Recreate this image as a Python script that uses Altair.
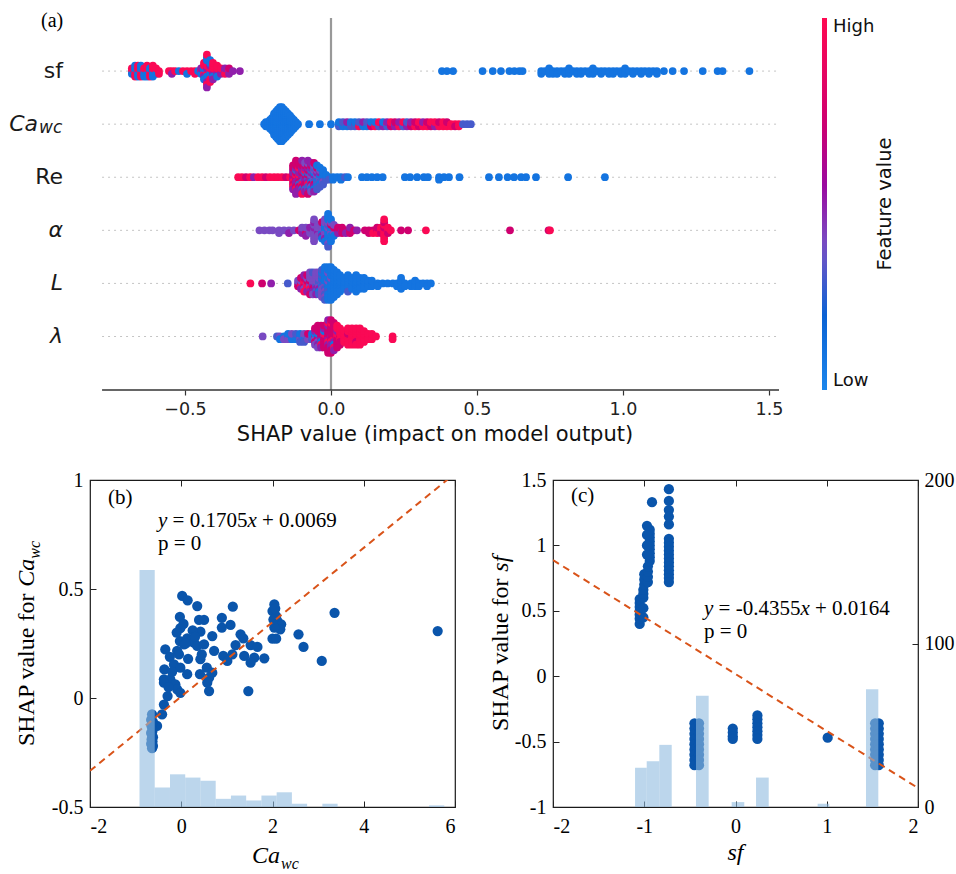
import math
import altair as alt
import pandas as pd

SANS = "DejaVu Sans"
SERIF = "Liberation Serif"

# ======================= panel (a): SHAP beeswarm =======================
ROW_TEXT = ["sf", "Ca", "Re", "α", "L", "λ"]
ROW_ITALIC = [False, True, False, True, True, True]
ROW_SUB = ["", "wc", "", "", "", ""]

# feature-value level of each dot code (low -> high)
LEVEL = {"B": 0.10, "b": 0.30, "v": 0.40, "P": 0.50, "m": 0.72, "R": 0.97}

# SHAP value of each stack of dots and the colour codes of the dots in it
SF_X = [-0.682, -0.671, -0.661, -0.651, -0.640, -0.630, -0.620, -0.610, -0.599, -0.589,
        -0.555, -0.545, -0.534, -0.521, -0.507, -0.493, -0.479, -0.466, -0.455, -0.445,
        -0.435, -0.425, -0.414, -0.404,
        -0.390, -0.377, -0.363, -0.349, -0.336, -0.312,
        0.380, 0.397, 0.418,
        0.519, 0.554, 0.582, 0.611, 0.628, 0.645, 0.656,
        0.720, 0.733, 0.747, 0.760, 0.774, 0.788, 0.801, 0.815, 0.829, 0.842,
        0.856, 0.870, 0.884, 0.897, 0.911, 0.925, 0.938, 0.952, 0.966, 0.979,
        0.993, 1.007, 1.021, 1.034, 1.048, 1.062, 1.075, 1.089, 1.103, 1.116,
        1.140, 1.170, 1.209, 1.273, 1.324, 1.341, 1.433]
SF_C = ["RBR", "BRBRB", "RBRBR", "BRBRB", "RBRB", "RBRBR", "BRBR", "RBRBR", "RBR", "RR",
        "R", "RP", "R", "B", "R", "RB", "R", "RR", "B", "RBP",
        "BRBPRBR", "BRPBRBRPBRBPR", "RBRBPRBRB", "RPRBRPR",
        "RPRBR", "RPR", "PRP", "RPm", "P", "P",
        "B", "B", "B",
        "B", "B", "B", "B", "B", "B", "B",
        "BB", "B", "BBB", "BB", "BB", "B", "BB", "BBB", "B", "BB",
        "BB", "B", "BB", "BBB", "B", "BB", "B", "BB", "BB", "B",
        "BB", "BBB", "B", "BB", "B", "BB", "B", "BB", "B", "BB",
        "B", "B", "B", "B", "B", "B", "B"]

CA_X = [-0.229, -0.223, -0.216, -0.209, -0.202, -0.195, -0.188, -0.182, -0.175, -0.168,
        -0.161, -0.154, -0.147, -0.140, -0.134, -0.127, -0.120, -0.113,
        -0.075, -0.038, 0.000,
        0.027, 0.041, 0.055, 0.068, 0.082, 0.096, 0.110, 0.123, 0.137, 0.151,
        0.164, 0.178, 0.192, 0.205, 0.219, 0.233, 0.247, 0.260, 0.274, 0.288,
        0.301, 0.315, 0.329, 0.342, 0.356, 0.370, 0.384, 0.397, 0.411, 0.425,
        0.438, 0.452, 0.466, 0.479]
CA_BLOB = [1, 3, 3, 5, 7, 11, 13, 15, 17, 17, 15, 13, 11, 9, 7, 5, 3, 1]
CA_C = ["B" * n for n in CA_BLOB] + [
        "B", "B", "B",
        "BbB", "BBb", "bBP", "BbB", "PbB", "BRb", "bBP", "RBb", "PmB", "bRB",
        "PbR", "mPB", "RbP", "PmR", "bPm", "mRP", "PbR", "mPb", "RmP", "PRm",
        "RmR", "mRP", "RRm", "RmR", "RPR", "RRm", "mRR", "RRm", "RR", "Rm",
        "RR", "b", "b", "b"]

RE_X = [-0.318, -0.305, -0.291, -0.277, -0.264, -0.250, -0.236, -0.223, -0.209, -0.195,
        -0.182, -0.168, -0.154, -0.140,
        -0.130, -0.120, -0.110, -0.099, -0.089, -0.079, -0.068, -0.058, -0.048, -0.038,
        -0.027, -0.017,
        -0.007, 0.007, 0.021, 0.034, 0.048, 0.058,
        0.106, 0.123, 0.140, 0.158, 0.177,
        0.253, 0.271, 0.295, 0.318, 0.332,
        0.370, 0.387, 0.404, 0.440,
        0.541, 0.575, 0.605, 0.627, 0.651, 0.668, 0.702, 0.812, 0.938]
RE_C = ["R", "R", "m", "R", "P", "R", "R", "m", "R", "R",
        "R", "R", "m", "R",
        "mPmRPmPRmPm", "PmRPmPbmPRmPmPm", "mPRmPbPmRPmPm", "PmPbmRPmPbmPmRP",
        "bPmPbmRmPbmPv", "PbmPbRmbPbmPvmP", "bPvBPmbvPBmvP", "BvPbBmvPbBvPm",
        "BbvBPbvBmbB", "BvBbPBvbB", "BbBvBbB", "BbB",
        "Bb", "BB", "B", "BB", "b", "B",
        "B", "B", "B", "B", "B",
        "B", "B", "B", "B", "B",
        "BB", "B", "B", "B",
        "B", "B", "B", "B", "B", "B", "B", "B", "B"]

AL_X = [-0.245, -0.228, -0.211, -0.200,
        -0.178, -0.161, -0.144, -0.127, -0.110,
        -0.099, -0.086, -0.072,
        -0.058, -0.045,
        -0.031, -0.021, -0.010, 0.000, 0.010,
        0.024, 0.038, 0.051, 0.065, 0.079, 0.089,
        0.116, 0.130, 0.144, 0.158, 0.171, 0.182, 0.195, 0.205,
        0.240, 0.264, 0.325,
        0.613, 0.745, 0.750]
AL_C = ["v", "v", "v", "v",
        "vv", "v", "vP", "v", "m",
        "vPv", "vmvP", "vvP",
        "vvPvvvPvv", "vPvvv",
        "vBvPvBm", "BvBvBPvBv", "BBvBbBvBBvBbB", "BvBBmBvBB", "BvmBv",
        "mPm", "Pmm", "mP", "mmP", "m", "P",
        "m", "mm", "mR", "mRm", "RmR", "RRmRRRmRR", "RmR", "R",
        "m", "m", "R",
        "m", "m", "R"]

L_X = [-0.276, -0.236, -0.205, -0.148,
       -0.113, -0.103, -0.092, -0.082, -0.072, -0.062, -0.051, -0.041, -0.031, -0.021, -0.010,
       0.000, 0.010, 0.021, 0.031,
       0.045, 0.058, 0.072, 0.086, 0.099, 0.113, 0.127, 0.140,
       0.160, 0.177, 0.194,
       0.212, 0.226, 0.240, 0.253,
       0.274, 0.288, 0.301, 0.315, 0.329, 0.342]
L_C = ["R", "m", "P", "b",
       "vmv", "mRvPm", "RmRvmRP", "vRmRvPm", "PvmRvPvmv", "vPvmvPvvb", "vbvPvbvPv",
       "bvbPvBvbv", "vBbvBvbvBvb", "BvBbBvBbBvBbB", "BBvBBbBBvBBBB",
       "BBBBvBBBBBBBB", "BBBBBBBBBBB", "BBBBBBBBB", "BBBBBBB",
       "BBBBB", "BBBBBbB", "BBBBB", "BBBBBBB", "BBBBB", "BBBBB", "BBB", "BBB",
       "BB", "B", "B",
       "B", "BB", "BBBBB", "BB",
       "BB", "BBB", "BB", "B", "BB", "B"]

LA_X = [-0.234,
        -0.185, -0.175, -0.161,
        -0.147, -0.134, -0.120, -0.106, -0.092, -0.079, -0.065,
        -0.055, -0.045, -0.034, -0.024,
        -0.010, 0.000, 0.010, 0.021, 0.031,
        0.045, 0.058, 0.072, 0.086, 0.099, 0.113, 0.127, 0.140, 0.154,
        0.211]
LA_C = ["v",
        "b", "vB", "Bv",
        "BvB", "BBv", "vBb", "BvBb", "vBvb", "Bvm", "vbB",
        "mvBmPvm", "PmBvmPmvm", "mPmBmRmPm", "PmRmBmPmm",
        "mPmRmPmmPmRmP", "PmmRmPmPmmRmm", "mRmPmBmRmPm", "RmRmPmRmR", "mRRmRmR",
        "RRRRR", "RRmRRRR", "RRRRRRR", "RRRmRRR", "RRRRRRR", "RRRRR", "RRR", "RRR", "R",
        "RR"]

ROWS = [(SF_X, SF_C), (CA_X, CA_C), (RE_X, RE_C), (AL_X, AL_C), (L_X, L_C), (LA_X, LA_C)]

# ======================= panel (b): SHAP vs Ca_wc =======================
B_POINTS = [(0.02, 0.468), (0.14, 0.448), (0.35, 0.422), (1.13, 0.419), (2.04, 0.429),
            (2.00, 0.399), (2.08, 0.376), (2.11, 0.353), (2.19, 0.338), (2.17, 0.315),
            (2.04, 0.323), (2.00, 0.272), (2.08, 0.272), (3.36, 0.391), (-0.03, 0.372),
            (0.39, 0.358), (0.50, 0.358), (0.89, 0.368), (1.08, 0.335), (0.89, 0.323),
            (-0.02, 0.320), (0.42, 0.304), (-0.03, 0.261), (0.13, 0.274), (0.20, 0.261),
            (0.28, 0.254), (0.06, 0.246), (0.35, 0.239), (0.50, 0.246), (0.68, 0.284),
            (1.30, 0.292), (1.36, 0.274), (1.52, 0.243), (1.67, 0.234), (1.19, 0.243),
            (-0.35, 0.223), (-0.25, 0.189), (0.72, 0.216), (0.92, 0.193), (1.12, 0.200),
            (1.01, 0.170), (1.38, 0.193), (1.60, 0.185), (1.82, 0.182), (1.52, 0.162),
            (2.57, 0.292), (2.68, 0.234), (3.08, 0.170), (-0.09, 0.216), (-0.16, 0.154),
            (-0.02, 0.139), (-0.37, 0.131), (0.13, 0.109), (0.42, 0.178), (0.56, 0.139),
            (0.41, 0.109), (0.61, 0.093), (0.68, 0.116), (-0.38, 0.086), (-0.24, 0.086),
            (-0.13, 0.063), (-0.38, 0.070), (-0.09, 0.040), (-0.30, 0.009), (0.61, 0.032),
            (0.57, 0.070), (1.47, 0.032), (-0.02, 0.024), (-0.38, -0.030), (-0.42, -0.075),
            (-0.53, -0.128), (5.62, 0.307), (-0.10, 0.300), (0.05, 0.340), (0.25, 0.310),
            (0.30, 0.280), (-0.20, 0.120), (-0.05, 0.200), (0.10, 0.250), (0.45, 0.200),
            (0.15, 0.180), (-0.28, 0.050), (2.02, 0.360), (2.06, 0.410),
            (-0.64, -0.075), (-0.66, -0.100), (-0.62, -0.110), (-0.64, -0.120),
            (-0.65, -0.130), (-0.63, -0.150), (-0.66, -0.160), (-0.64, -0.170),
            (-0.62, -0.180), (-0.65, -0.190), (-0.63, -0.200), (-0.66, -0.210),
            (-0.62, -0.220), (-0.64, -0.230)]
B_FIT = (0.1705, 0.0069)
B_HIST_LO = [-0.915, -0.581, -0.247, 0.087, 0.421, 0.755, 1.089, 1.423, 1.757, 2.091, 2.425, 3.093, 5.431]
B_HIST_HI = [-0.581, -0.247, 0.087, 0.421, 0.755, 1.089, 1.423, 1.757, 2.091, 2.425, 2.759, 3.427, 5.765]
B_HIST_N = [145, 12, 20, 18, 16, 5, 7, 4, 7, 9, 2, 2, 1]

# ======================= panel (c): SHAP vs sf =======================
C_COLUMNS = [
    (-1.05, [0.40, 0.44, 0.47, 0.50, 0.53, 0.56, 0.59]),
    (-1.01, [0.45, 0.52, 0.60, 0.63, 0.66]),
    (-1.00, [0.70, 0.74, 0.78]),
    (-0.96, [0.72, 0.76, 0.80, 0.84]),
    (-0.94, [0.88, 0.91, 0.94, 0.97, 1.00, 1.03, 1.06, 1.09, 1.12]),
    (-0.97, [0.93, 1.00, 1.08, 1.15]),
    (-0.915, [1.33]),
    (-0.73, [1.43, 1.34, 1.27, 1.22, 1.16, 1.05, 1.02, 0.99, 0.96, 0.93, 0.90, 0.87,
             0.84, 0.81, 0.78, 0.75, 0.72]),
    (-0.45, [-0.36, -0.40, -0.44, -0.48, -0.52, -0.56, -0.60, -0.64, -0.68]),
    (-0.40, [-0.36, -0.40, -0.44, -0.48, -0.52, -0.56, -0.60, -0.64, -0.68]),
    (-0.03, [-0.40, -0.43, -0.46, -0.48]),
    (0.24, [-0.30, -0.33, -0.36, -0.39, -0.42, -0.45, -0.48]),
    (1.01, [-0.47]),
    (1.53, [-0.36, -0.40, -0.44, -0.48, -0.52, -0.56, -0.60, -0.64, -0.68]),
    (1.57, [-0.36, -0.40, -0.44, -0.48, -0.52, -0.56, -0.60, -0.64, -0.68]),
]
C_FIT = (-0.4355, 0.0164)
C_HIST_LO = [-1.101, -0.973, -0.835, -0.433, -0.042, 0.225, 0.900, 1.430]
C_HIST_HI = [-0.973, -0.835, -0.699, -0.294, 0.096, 0.364, 1.028, 1.565]
C_HIST_N = [24, 28, 38, 68, 3, 18, 2, 72]

DOT = "#0a55ab"
ORANGE = "#d95319"
HIST = "#8fbbe0"


# ----------------------------------------------------------------------
def swarm_records(row, xs, codes):
    """shap-style beeswarm stacking of the dots in each stack."""
    maxlayer = max(math.ceil((len(c) - 1) / 2) for c in codes)
    unit = 0.36 / (maxlayer + 1)
    out = []
    for x, code in zip(xs, codes):
        for k, ch in enumerate(code):
            off = math.ceil(k / 2) * (1 if k % 2 else -1)
            out.append({"shap": x, "ypos": row + off * unit, "fv": LEVEL[ch]})
    return out


def txt(s, x, y, size, font=SERIF, italic=False, align="left", baseline="alphabetic",
        angle=0, color="#000000"):
    kw = dict(align=align, baseline=baseline, font=font, fontSize=size, color=color)
    if italic:
        kw["fontStyle"] = "italic"
    if angle:
        kw["angle"] = angle
    return alt.Chart(pd.DataFrame({"t": [s]})).mark_text(**kw).encode(
        text="t:N", x=alt.value(x), y=alt.value(y))


# ---------------- panel (a) ----------------
recs = []
for r, (xs, cs) in enumerate(ROWS):
    recs += swarm_records(r, xs, cs)
swarm_df = pd.DataFrame(recs)
rows_df = pd.DataFrame({"row": list(range(len(ROW_TEXT))), "text": ROW_TEXT,
                        "italic": ROW_ITALIC, "sub": ROW_SUB})

W_A, H_A = 689, 372
XT = alt.Scale(domain=[-0.8253, 1.5342], nice=False, zero=False)
YT = alt.Scale(domain=[-1.0, 6.008], nice=False, zero=False, reverse=True)
COLOR = alt.Scale(domain=[0, 0.2, 0.38, 0.55, 0.72, 1.0],
                  range=["#1c86ec", "#0b62d4", "#7553c6", "#9b0aa0", "#cf006f", "#ff0a52"],
                  interpolate="rgb")
AX_A = alt.Axis(values=[-0.5, 0, 0.5, 1, 1.5], format=".1f", domain=False, grid=False,
                ticks=True, tickSize=5, tickWidth=1.2, tickColor="#333333",
                labelFont=SANS, labelFontSize=17.5, labelColor="#222222", labelPadding=5,
                title="SHAP value (impact on model output)", titleFont=SANS,
                titleFontSize=21, titleFontWeight="normal", titleColor="#111111",
                titlePadding=6)
LEG = alt.Legend(orient="none", legendX=732, legendY=0, direction="vertical",
                 gradientLength=H_A, gradientThickness=5, gradientStrokeWidth=0,
                 values=[0, 1], labelExpr="datum.value > 0.5 ? 'High' : 'Low'",
                 labelFont=SANS, labelFontSize=18, labelColor="#111111", labelOffset=6,
                 padding=0, title=None)

dotted = alt.Chart(rows_df).mark_rule(color="#c4c4c4", strokeDash=[2, 4], strokeWidth=1).encode(
    x=alt.X(datum=-0.784, scale=XT, axis=AX_A), x2=alt.X2(datum=1.5342),
    y=alt.Y("row:Q", scale=YT, axis=None))
zero = alt.Chart(pd.DataFrame({"z": [0.0]})).mark_rule(color="#999999", strokeWidth=2.2).encode(
    x=alt.X("z:Q", scale=XT, axis=AX_A), y=alt.value(0), y2=alt.value(H_A))
axline = alt.Chart(pd.DataFrame({"z": [0.0]})).mark_rule(color="#333333", strokeWidth=1.5).encode(
    x=alt.X(datum=-0.784, scale=XT, axis=AX_A), x2=alt.X2(datum=1.5342), y=alt.value(H_A))
dots = alt.Chart(swarm_df).mark_circle(size=60, opacity=1).encode(
    x=alt.X("shap:Q", scale=XT, axis=AX_A),
    y=alt.Y("ypos:Q", scale=YT, axis=None),
    color=alt.Color("fv:Q", scale=COLOR, legend=LEG))

lab_kw = dict(baseline="middle", font=SANS, fontSize=22, color="#1a1a1a")
lab_plain = alt.Chart(rows_df).transform_filter("!datum.italic && datum.sub == ''").mark_text(
    align="right", **lab_kw).encode(x=alt.value(-27), y=alt.Y("row:Q", scale=YT, axis=None), text="text:N")
lab_ital = alt.Chart(rows_df).transform_filter("datum.italic && datum.sub == ''").mark_text(
    align="right", fontStyle="italic", **lab_kw).encode(
    x=alt.value(-27), y=alt.Y("row:Q", scale=YT, axis=None), text="text:N")
lab_main = alt.Chart(rows_df).transform_filter("datum.sub != ''").mark_text(
    align="right", fontStyle="italic", **lab_kw).encode(
    x=alt.value(-52), y=alt.Y("row:Q", scale=YT, axis=None), text="text:N")
lab_sub = alt.Chart(rows_df).transform_filter("datum.sub != ''").mark_text(
    align="left", baseline="middle", font=SANS, fontSize=17, fontStyle="italic",
    color="#1a1a1a", dy=4).encode(
    x=alt.value(-51), y=alt.Y("row:Q", scale=YT, axis=None), text="sub:N")

anchor = alt.Chart(pd.DataFrame({"a": [0]})).mark_rule(strokeOpacity=0, strokeWidth=1).encode(
    x=alt.value(-89), x2=alt.value(-88), y=alt.value(-17))

panel_a = alt.layer(
    dotted, zero, axline, dots, lab_plain, lab_ital, lab_main, lab_sub,
    txt("(a)", -49, 9, 20),
    txt("Feature value", 801, 186, 19.5, font=SANS, angle=270, align="center", color="#111111"),
    anchor,
).properties(width=W_A, height=H_A, view=alt.ViewBackground(stroke="transparent"))


# ---------------- panels (b) and (c) ----------------
def frame_axis(orient, values, labels=True, pad=8):
    return alt.Axis(orient=orient, values=values, domain=False, grid=False, ticks=True,
                    tickSize=6, tickWidth=1, tickColor="#222222", offset=-6,
                    labels=labels, labelFont=SERIF, labelFontSize=20, labelColor="#000000",
                    labelPadding=pad, labelExpr="'' + datum.value", title=None)


W_B, H_B = 365, 327


def scatter_panel(pts_df, fit, xdom, ydom, xticks, yticks, hist_df, right_ticks, texts):
    xs = alt.Scale(domain=xdom, nice=False, zero=False)
    ys = alt.Scale(domain=ydom, nice=False, zero=False)
    ns = alt.Scale(domain=[0, 200], nice=False, zero=False)
    pts = alt.Chart(pts_df).mark_circle(size=105, color=DOT, opacity=1).encode(
        x=alt.X("x:Q", scale=xs, axis=frame_axis("bottom", xticks, pad=9)),
        y=alt.Y("y:Q", scale=ys, axis=frame_axis("left", yticks, pad=7)))
    line_df = pd.DataFrame({"x": xdom})
    line_df["y"] = fit[0] * line_df["x"] + fit[1]
    fit_line = alt.Chart(line_df).mark_line(clip=True, color=ORANGE, strokeDash=[7, 5],
                                            strokeWidth=2).encode(
        x=alt.X("x:Q", scale=xs, axis=None), y=alt.Y("y:Q", scale=ys, axis=None))
    n_axis = frame_axis("right", right_ticks, pad=6) if right_ticks else None
    bars = alt.Chart(hist_df).mark_rect(color=HIST, opacity=0.6).encode(
        x=alt.X("lo:Q", scale=xs, axis=frame_axis("top", xticks, labels=False)),
        x2="hi:Q",
        y=alt.Y("n:Q", scale=ns, axis=n_axis),
        y2=alt.value(H_B))
    return alt.layer(pts, fit_line, bars, *texts).resolve_scale(
        x="independent", y="independent").resolve_axis(
        x="independent", y="independent").properties(
        width=W_B, height=H_B, view=alt.ViewBackground(stroke="#1a1a1a", strokeWidth=1.2))


b_df = pd.DataFrame(B_POINTS, columns=["x", "y"])
b_hist = pd.DataFrame({"lo": B_HIST_LO, "hi": B_HIST_HI, "n": B_HIST_N})
b_texts = [
    txt("(b)", 18, 24, 21),
    txt("y", 68, 47, 21, italic=True), txt("= 0.1705", 82.6, 47, 21),
    txt("x", 157.4, 47, 21, italic=True), txt("+ 0.0069", 172, 47, 21),
    txt("p = 0", 68, 70, 21),
    txt("Ca", 190, 383, 24, italic=True, align="right"),
    txt("wc", 191, 389, 16, italic=True),
    txt("SHAP value for", -56, 266, 24, angle=270),
    txt("Ca", -56, 106.7, 24, italic=True, angle=270),
    txt("wc", -50, 78.7, 16, italic=True, angle=270),
]
panel_b = scatter_panel(b_df, B_FIT, [-2, 6], [-0.5, 1], [-2, 0, 2, 4, 6], [-0.5, 0, 0.5, 1],
                        b_hist, None, b_texts)

c_rows = [(x, y) for x, ys_ in C_COLUMNS for y in ys_]
c_df = pd.DataFrame(c_rows, columns=["x", "y"])
c_hist = pd.DataFrame({"lo": C_HIST_LO, "hi": C_HIST_HI, "n": C_HIST_N})
c_texts = [
    txt("(c)", 18, 22, 21),
    txt("y", 151, 135, 21, italic=True), txt("= -0.4355", 165.6, 135, 21),
    txt("x", 247.4, 135, 21, italic=True), txt("+ 0.0164", 262, 135, 21),
    txt("p = 0", 151, 158, 21),
    txt("sf", 182.5, 380, 24, italic=True, align="center"),
    txt("SHAP value for", -45, 251, 24, angle=270),
    txt("sf", -45, 91.7, 24, italic=True, angle=270),
]
panel_c = scatter_panel(c_df, C_FIT, [-2, 2], [-1, 1.5], [-2, -1, 0, 1, 2],
                        [-1, -0.5, 0, 0.5, 1, 1.5], c_hist, [0, 100, 200], c_texts)

bottom = alt.hconcat(panel_b, panel_c, spacing=98, bounds="flush")
chart = alt.vconcat(panel_a, bottom, spacing=90, bounds="flush").properties(
    padding=0, autosize=alt.AutoSizeParams(type="pad")
).configure_view(stroke="transparent")

chart.save("out.html", embed_options={"renderer": "svg", "actions": False})
